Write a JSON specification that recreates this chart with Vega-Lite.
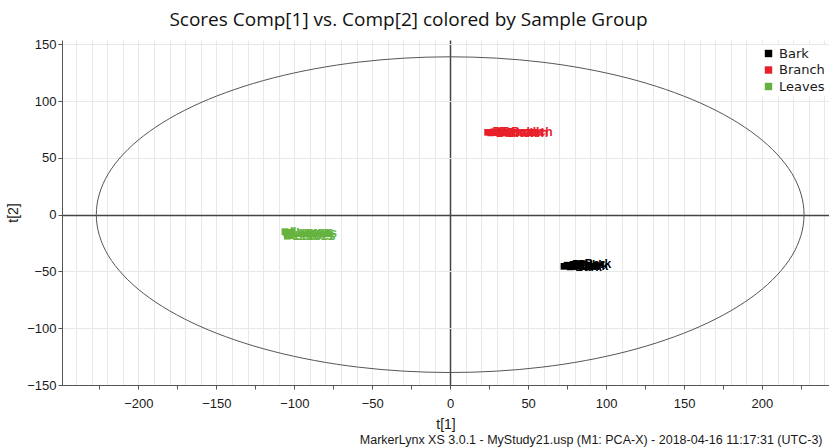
{
  "$schema": "https://vega.github.io/schema/vega-lite/v6.json",
  "width": 767,
  "height": 345,
  "autosize": {"type": "none"},
  "padding": {"left": 62, "top": 40, "right": 0, "bottom": 63},
  "background": "white",
  "title": {"text": "Scores Comp[1] vs. Comp[2] colored by Sample Group", "font": "Open Sans", "fontSize": 19, "fontWeight": "normal", "anchor": "middle", "dx": -37, "offset": 8, "color": "#111111"},
  "config": {
    "view": {"stroke": null},
    "axis": {"labelFont": "Liberation Sans", "labelFontSize": 13, "labelColor": "#1a1a1a", "domainColor": "#555555", "tickColor": "#555555", "gridColor": "#e8e8e8", "titleFont": "Liberation Sans", "titleFontWeight": "normal", "titleFontSize": 14, "titleColor": "#1a1a1a"}
  },
  "datasets": {
    "ellipse": [
      {"i": 0, "ex": 227, "ey": 0},
      {"i": 1, "ex": 219.3, "ey": 36.0},
      {"i": 2, "ex": 196.6, "ey": 69.5},
      {"i": 3, "ex": 160.5, "ey": 98.3},
      {"i": 4, "ex": 113.5, "ey": 120.4},
      {"i": 5, "ex": 58.8, "ey": 134.3},
      {"i": 6, "ex": 0, "ey": 139},
      {"i": 7, "ex": -58.8, "ey": 134.3},
      {"i": 8, "ex": -113.5, "ey": 120.4},
      {"i": 9, "ex": -160.5, "ey": 98.3},
      {"i": 10, "ex": -196.6, "ey": 69.5},
      {"i": 11, "ex": -219.3, "ey": 36.0},
      {"i": 12, "ex": -227, "ey": 0},
      {"i": 13, "ex": -219.3, "ey": -36.0},
      {"i": 14, "ex": -196.6, "ey": -69.5},
      {"i": 15, "ex": -160.5, "ey": -98.3},
      {"i": 16, "ex": -113.5, "ey": -120.4},
      {"i": 17, "ex": -58.8, "ey": -134.3},
      {"i": 18, "ex": 0, "ey": -139},
      {"i": 19, "ex": 58.8, "ey": -134.3},
      {"i": 20, "ex": 113.5, "ey": -120.4},
      {"i": 21, "ex": 160.5, "ey": -98.3},
      {"i": 22, "ex": 196.6, "ey": -69.5},
      {"i": 23, "ex": 219.3, "ey": -36.0}
    ],
    "samples": [
      {"group": "Bark", "t1": 73, "t2": -45.5},
      {"group": "Bark", "t1": 75, "t2": -44.5},
      {"group": "Bark", "t1": 77, "t2": -46},
      {"group": "Bark", "t1": 79, "t2": -44},
      {"group": "Bark", "t1": 81, "t2": -45},
      {"group": "Bark", "t1": 83, "t2": -43.5},
      {"group": "Branch", "t1": 24, "t2": 72.5},
      {"group": "Branch", "t1": 26, "t2": 72},
      {"group": "Branch", "t1": 28, "t2": 73},
      {"group": "Branch", "t1": 30, "t2": 72.5},
      {"group": "Branch", "t1": 33, "t2": 72},
      {"group": "Branch", "t1": 36, "t2": 72.5},
      {"group": "Leaves", "t1": -106, "t2": -15},
      {"group": "Leaves", "t1": -105, "t2": -16},
      {"group": "Leaves", "t1": -104, "t2": -15.5},
      {"group": "Leaves", "t1": -104.5, "t2": -19},
      {"group": "Leaves", "t1": -103, "t2": -18.5},
      {"group": "Leaves", "t1": -102, "t2": -16}
    ]
  },
  "resolve": {"axis": {"x": "independent"}},
  "layer": [
    {
      "data": {"name": "ellipse"},
      "mark": {"type": "line", "interpolate": "cardinal-closed", "color": "#555555", "strokeWidth": 1},
      "encoding": {
        "x": {"field": "ex", "type": "quantitative", "scale": {"domain": [-249, 243], "nice": false, "zero": false},
          "axis": {"title": "t[1]", "titlePadding": 7, "values": [-245,-240,-235,-230,-225,-220,-215,-210,-205,-200,-195,-190,-185,-180,-175,-170,-165,-160,-155,-150,-145,-140,-135,-130,-125,-120,-115,-110,-105,-100,-95,-90,-85,-80,-75,-70,-65,-60,-55,-50,-45,-40,-35,-30,-25,-20,-15,-10,-5,0,5,10,15,20,25,30,35,40,45,50,55,60,65,70,75,80,85,90,95,100,105,110,115,120,125,130,135,140,145,150,155,160,165,170,175,180,185,190,195,200,205,210,215,220,225,230,235,240],
            "labelExpr": "datum.value % 50 === 0 ? datum.label : ''", "labelPadding": 8, "labelFlush": false, "labelOverlap": false,
            "tickSize": 4,
            "tickOpacity": {"condition": {"test": "datum.value % 25 === 0", "value": 1}, "value": 0},
            "grid": true,
            "gridOpacity": {"condition": {"test": "datum.value % 10 === 0", "value": 1}, "value": 0},
            "gridColor": {"condition": {"test": "datum.value === 0", "value": "#444444"}, "value": "#e8e8e8"},
            "gridWidth": {"condition": {"test": "datum.value === 0", "value": 1.5}, "value": 1}}},
        "y": {"field": "ey", "type": "quantitative", "scale": {"domain": [-150, 153.8], "nice": false, "zero": false},
          "axis": {"title": "t[2]", "titlePadding": 6, "values": [-150,-137.5,-125,-112.5,-100,-87.5,-75,-62.5,-50,-37.5,-25,-12.5,0,12.5,25,37.5,50,62.5,75,87.5,100,112.5,125,137.5,150],
            "labelExpr": "datum.value % 50 === 0 ? datum.label : ''", "labelPadding": 2, "labelFlush": false, "labelOverlap": false,
            "tickSize": 4,
            "tickOpacity": {"condition": {"test": "datum.value % 25 === 0", "value": 1}, "value": 0},
            "grid": true,
            "gridColor": {"condition": {"test": "datum.value === 0", "value": "#444444"}, "value": "#e8e8e8"},
            "gridWidth": {"condition": {"test": "datum.value === 0", "value": 1.5}, "value": 1}}},
        "order": {"field": "i", "type": "quantitative"}
      }
    },
    {
      "data": {"name": "samples"},
      "mark": {"type": "square", "size": 45, "opacity": 1, "filled": true},
      "encoding": {
        "x": {"field": "t1", "type": "quantitative", "scale": {"domain": [-249, 243], "nice": false, "zero": false},
          "axis": {"orient": "bottom", "title": "MarkerLynx XS 3.0.1 - MyStudy21.usp (M1: PCA-X) - 2018-04-16 11:17:31 (UTC-3)", "domain": false, "ticks": false, "labels": false, "grid": false,
            "titleFontSize": 12.5, "titleAnchor": "end", "titleAlign": "right", "titleX": 760, "titleY": 54, "titleBaseline": "middle"}},
        "y": {"field": "t2", "type": "quantitative"},
        "color": {"field": "group", "type": "nominal",
          "scale": {"domain": ["Bark", "Branch", "Leaves"], "range": ["#000000", "#e8202a", "#64b33e"]},
          "legend": {"title": null, "orient": "none", "legendX": 698, "legendY": 5, "symbolType": "square", "symbolSize": 55, "symbolStrokeWidth": 0, "labelFont": "DejaVu Sans", "labelFontSize": 13, "labelColor": "#1a1a1a", "rowPadding": 2.5, "labelOffset": 4, "fillColor": "white", "padding": 2}}
      }
    },
    {
      "data": {"name": "samples"},
      "mark": {"type": "text", "align": "left", "baseline": "middle", "dx": 5, "font": "Liberation Sans", "fontSize": 12, "fontWeight": "bold"},
      "encoding": {
        "x": {"field": "t1", "type": "quantitative", "scale": {"domain": [-249, 243], "nice": false, "zero": false}, "axis": null},
        "y": {"field": "t2", "type": "quantitative"},
        "text": {"field": "group", "type": "nominal"},
        "color": {"field": "group", "type": "nominal"}
      }
    }
  ]
}
